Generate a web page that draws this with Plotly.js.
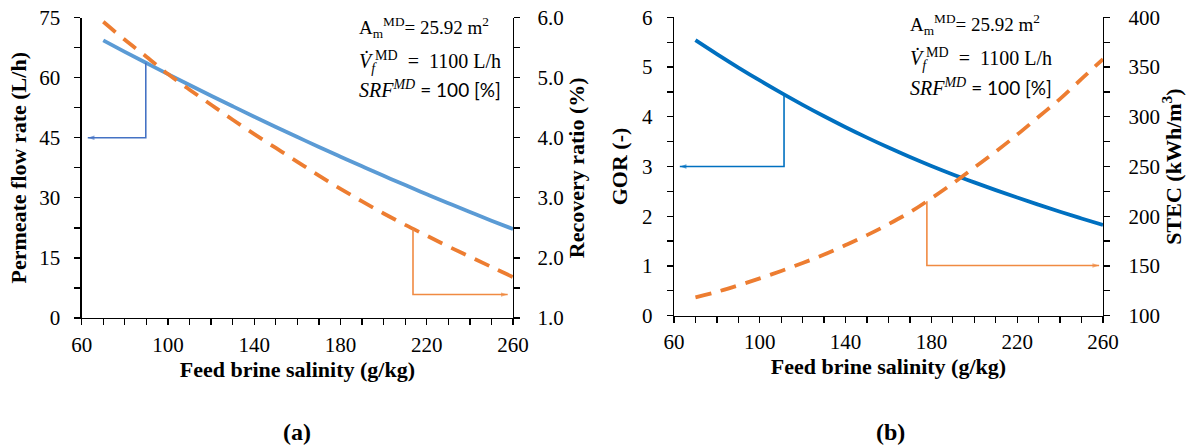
<!DOCTYPE html>
<html>
<head>
<meta charset="utf-8">
<script src="https://cdn.plot.ly/plotly-3.0.1.min.js"></script>
<style>html,body{margin:0;padding:0;background:#fff;}#chart{width:1186px;height:447px;}</style>
</head>
<body>
<div id="chart"></div>
<script>
// ---------- data ----------
const salinity = [70, 80, 90, 100, 110, 120, 130, 140, 150, 160, 170, 180, 190, 200, 210, 220, 230, 240, 250, 260];
const permeateFlow = [69.3, 66.45, 63.65, 60.9, 58.18, 55.5, 52.86, 50.26, 47.7, 45.18, 42.7, 40.26, 37.86, 35.5, 33.18, 30.9, 28.66, 26.46, 24.3, 22.2];
const recoveryRatio = [5.93, 5.63, 5.35, 5.06, 4.80, 4.55, 4.30, 4.06, 3.83, 3.60, 3.37, 3.15, 2.94, 2.74, 2.55, 2.37, 2.19, 2.02, 1.85, 1.68];
const gor = [5.54, 5.26, 4.99, 4.73, 4.48, 4.24, 4.01, 3.79, 3.58, 3.38, 3.19, 3.01, 2.84, 2.68, 2.525, 2.375, 2.23, 2.09, 1.955, 1.825];
const stec = [118.5, 124, 130.5, 137.5, 145, 153, 161.5, 171, 181, 192, 204, 218, 233, 249, 265, 282, 300, 318, 338, 358];

const xTitle = 'Feed brine salinity (g/kg)';
const yTitles = ['Permeate flow rate (L/h)', 'Recovery ratio (%)', 'GOR (-)', 'STEC (kWh/m<sup>3</sup>)'];
const panelLabels = ['(a)', '(b)'];

// callouts: x where the leader leaves the curve, level of the horizontal leg, arrow tip x
const flowCallout = {x: 89.7, yLevel: 45, xTip: 62.8};
const recoveryCallout = {x: 213.6, yLevel: 1.39, xTip: 257.5};
const gorCallout = {x: 111.3, yLevel: 3.0, xTip: 62.7};
const stecCallout = {x: 177.9, yLevel: 150.5, xTip: 258.2};

// ---------- helpers ----------
function interp(xs, ys, x) {
  for (let i = 0; i < xs.length - 1; i++) {
    if (x >= xs[i] && x <= xs[i + 1]) {
      const t = (x - xs[i]) / (xs[i + 1] - xs[i]);
      return ys[i] + t * (ys[i + 1] - ys[i]);
    }
  }
  return ys[ys.length - 1];
}
function callout(c, ys, color, xa, ya) {
  const yc = interp(salinity, ys, c.x);
  return {
    x: [c.x, c.x, c.xTip], y: [yc, c.yLevel, c.yLevel],
    xaxis: xa, yaxis: ya, type: 'scatter', mode: 'lines+markers',
    line: {color: color, width: 1.6},
    marker: {symbol: 'arrow', angleref: 'previous', size: [0, 0, 7], color: color, line: {width: 0}},
    hoverinfo: 'skip', showlegend: false
  };
}

const ORANGE = '#ED7D31';
const BLUE_A = '#5B9BD5';
const BLUE_B = '#0070C0';
const DASH = '16px,10px';

const traces = [
  {x: salinity, y: permeateFlow, xaxis: 'x', yaxis: 'y', type: 'scatter', mode: 'lines',
   line: {color: BLUE_A, width: 3.8, shape: 'spline'}, name: 'Permeate flow rate'},
  {x: salinity, y: recoveryRatio, xaxis: 'x', yaxis: 'y2', type: 'scatter', mode: 'lines',
   line: {color: ORANGE, width: 3.8, dash: DASH, shape: 'spline'}, name: 'Recovery ratio'},
  {x: salinity, y: gor, xaxis: 'x2', yaxis: 'y3', type: 'scatter', mode: 'lines',
   line: {color: BLUE_B, width: 3.8, shape: 'spline'}, name: 'GOR'},
  {x: salinity, y: stec, xaxis: 'x2', yaxis: 'y4', type: 'scatter', mode: 'lines',
   line: {color: ORANGE, width: 3.8, dash: DASH, shape: 'spline'}, name: 'STEC'},
  callout(flowCallout, permeateFlow, '#4472C4', 'x', 'y'),
  callout(recoveryCallout, recoveryRatio, '#F08A42', 'x', 'y2'),
  callout(gorCallout, gor, '#0070C0', 'x2', 'y3'),
  callout(stecCallout, stec, '#F08A42', 'x2', 'y4')
];

const SERIF = 'Liberation Serif';
const tickFont = {family: SERIF, size: 21, color: '#000'};
const titleFont = {family: SERIF, size: 22, color: '#000', weight: 'bold'};

function xAxis(domain, anchor) {
  return {
    domain: domain, anchor: anchor, range: [60, 260], tick0: 60, dtick: 40,
    ticks: 'outside', ticklen: 6, tickwidth: 1.3, tickcolor: '#000',
    minor: {dtick: 10, ticks: 'outside', ticklen: 6, tickwidth: 1.3, tickcolor: '#000', showgrid: false},
    showline: true, linecolor: '#000', linewidth: 1.3, showgrid: false, zeroline: false,
    tickfont: tickFont, ticklabelstandoff: 1,
    title: {text: '<b>' + xTitle + '</b>', font: titleFont, standoff: 0}
  };
}
function yAxis(domain, anchor, range, dtick, minor, side, title, fmt, labelOff, standoff) {
  const a = {
    domain: domain, anchor: anchor, range: range, dtick: dtick, tick0: range[0],
    ticks: 'outside', ticklen: 6, tickwidth: 1.3, tickcolor: '#000',
    minor: {dtick: minor, ticks: 'outside', ticklen: 6, tickwidth: 1.3, tickcolor: '#000', showgrid: false},
    showline: true, linecolor: '#000', linewidth: 1.3, showgrid: false, zeroline: false,
    tickfont: tickFont, ticklabelstandoff: labelOff, side: side,
    title: {text: '<b>' + title + '</b>', font: titleFont, standoff: standoff}
  };
  if (fmt) a.tickformat = fmt;
  return a;
}

const domA = [0.0689, 0.4326];
const domB = [0.5683, 0.9300];
const domYA = [1 - 318 / 447, 1 - 17.6 / 447];
const domYB = [1 - 315.7 / 447, 1 - 17.3 / 447];

const y2 = yAxis(domYA, 'x', [1, 6], 1, 0.5, 'right', yTitles[1], '.1f', 13, 4);
y2.overlaying = 'y';
const y4 = yAxis(domYB, 'x2', [100, 400], 50, 25, 'right', yTitles[3], null, 14, 8);
y4.overlaying = 'y3';

function note(x, y, text, size) {
  return {xref: 'paper', yref: 'paper', x: x, y: y, xanchor: 'left', yanchor: 'middle',
          text: text, showarrow: false, font: {family: SERIF, size: size, color: '#000'}};
}
function notes(xpx, ys) {
  const x = xpx / 1186;
  return [
    note(x, 1 - ys[0] / 447, 'A<sub>m</sub><sup>MD</sup>= 25.92 m<sup>2</sup>', 19),
    note(x, 1 - ys[1] / 447, '<i>V̇</i><sub><i>f</i></sub><sup>MD</sup>  =  1100 L/h', 20),
    note(x, 1 - ys[2] / 447, '<i>SRF</i><sup><i>MD</i></sup> <span style="font-family:Lato;font-size:19px">= 100 [%]</span>', 20)
  ];
}

const layout = {
  width: 1186, height: 447,
  margin: {l: 0, r: 0, t: 0, b: 0},
  paper_bgcolor: '#fff', plot_bgcolor: '#fff',
  showlegend: false,
  font: {family: SERIF, color: '#000'},
  xaxis: xAxis(domA, 'y'),
  yaxis: yAxis(domYA, 'x', [0, 75], 15, 7.5, 'left', yTitles[0], null, 10, 6),
  yaxis2: y2,
  xaxis2: xAxis(domB, 'y3'),
  yaxis3: yAxis(domYB, 'x2', [0, 6], 1, 0.5, 'left', yTitles[2], null, 10, 8),
  yaxis4: y4,
  annotations: [].concat(
    notes(357, [27, 62, 89]),
    notes(908, [25, 59, 87]),
    [
      {xref: 'paper', yref: 'paper', x: 297 / 1186, y: 1 - 432 / 447, xanchor: 'center', yanchor: 'middle',
       text: '<b>' + panelLabels[0] + '</b>', showarrow: false, font: {family: SERIF, size: 24, color: '#000'}},
      {xref: 'paper', yref: 'paper', x: 890 / 1186, y: 1 - 432 / 447, xanchor: 'center', yanchor: 'middle',
       text: '<b>' + panelLabels[1] + '</b>', showarrow: false, font: {family: SERIF, size: 24, color: '#000'}}
    ]
  )
};

Plotly.newPlot('chart', traces, layout, {staticPlot: true, displayModeBar: false});
</script>
</body>
</html>
